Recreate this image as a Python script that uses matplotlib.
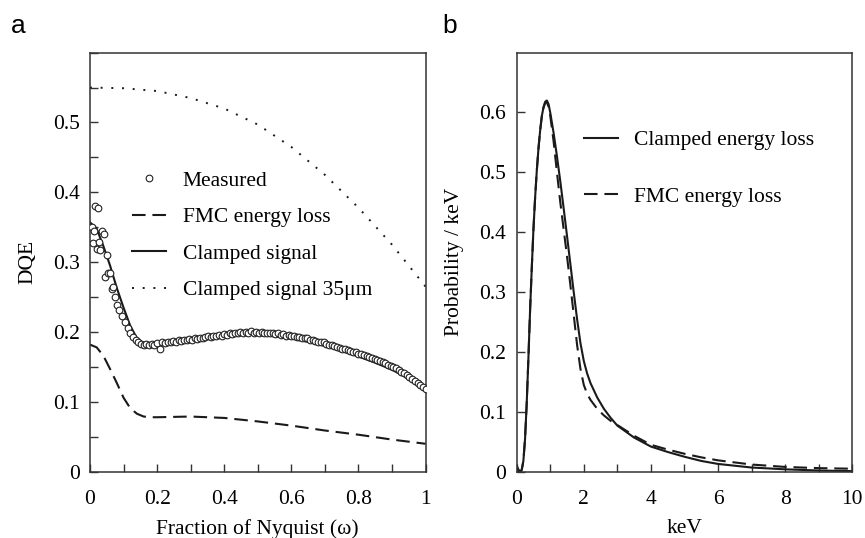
import matplotlib
matplotlib.use("Agg")
import matplotlib.pyplot as plt
import numpy as np
from matplotlib.ticker import MultipleLocator

plt.rcParams['font.family'] = ['Liberation Serif', 'DejaVu Serif']
plt.rcParams['mathtext.fontset'] = 'stix'

# ---------------- Panel a data ----------------
meas_x = [0.005, 0.008, 0.012, 0.015, 0.02, 0.023, 0.027, 0.031, 0.036, 0.041, 0.045, 0.05,
          0.055, 0.06, 0.065, 0.07, 0.075,
          0.08, 0.088, 0.096, 0.104, 0.112, 0.12, 0.128, 0.136, 0.144, 0.152, 0.16, 0.168,
          0.176, 0.184, 0.192, 0.2, 0.208, 0.216, 0.224, 0.232, 0.24, 0.248, 0.256, 0.264,
          0.272, 0.28, 0.288, 0.296, 0.304, 0.312, 0.32, 0.328, 0.336, 0.344, 0.352, 0.36,
          0.368, 0.376, 0.384, 0.392, 0.4, 0.408, 0.416, 0.424, 0.432, 0.44, 0.448, 0.456,
          0.464, 0.472, 0.48, 0.488, 0.496, 0.504, 0.512, 0.52, 0.528, 0.536, 0.544, 0.552,
          0.56, 0.568, 0.576, 0.584, 0.592, 0.6, 0.608, 0.616, 0.624, 0.632, 0.64, 0.648,
          0.656, 0.664, 0.672, 0.68, 0.688, 0.696, 0.704, 0.712, 0.72, 0.728, 0.736, 0.744,
          0.752, 0.76, 0.768, 0.776, 0.784, 0.792, 0.8, 0.808, 0.816, 0.824, 0.832, 0.84,
          0.848, 0.856, 0.864, 0.872, 0.88, 0.888, 0.896, 0.904, 0.912, 0.92, 0.928, 0.936,
          0.944, 0.952, 0.96, 0.968, 0.976, 0.984, 0.992, 1.0]
meas_y = [0.35, 0.327, 0.345, 0.38, 0.319, 0.378, 0.329, 0.318, 0.345, 0.34, 0.279, 0.31,
          0.284, 0.284, 0.262, 0.264, 0.25,
          0.238, 0.231, 0.223, 0.215, 0.206, 0.199, 0.193, 0.188, 0.185, 0.183, 0.182, 0.183,
          0.181, 0.183, 0.182, 0.184, 0.175, 0.185, 0.184, 0.186, 0.185, 0.187, 0.186, 0.188,
          0.187, 0.189, 0.188, 0.19, 0.189, 0.191, 0.19, 0.192, 0.191, 0.193, 0.194, 0.193,
          0.195, 0.194, 0.196, 0.195, 0.197, 0.196, 0.198, 0.197, 0.199, 0.198, 0.2, 0.199,
          0.2, 0.199, 0.201, 0.199, 0.2, 0.199, 0.2, 0.198, 0.199, 0.198, 0.199, 0.197,
          0.198, 0.196, 0.197, 0.195, 0.196, 0.194, 0.195, 0.193, 0.193, 0.192, 0.191, 0.191,
          0.189, 0.189, 0.187, 0.186, 0.185, 0.185, 0.183, 0.182, 0.181, 0.18, 0.178, 0.177,
          0.176, 0.175, 0.174, 0.173, 0.172, 0.171, 0.169, 0.168, 0.167, 0.166, 0.164, 0.163,
          0.162, 0.16, 0.158, 0.157, 0.155, 0.153, 0.152, 0.15, 0.148, 0.146, 0.143, 0.141,
          0.139, 0.136, 0.133, 0.13, 0.127, 0.124, 0.121, 0.118]

clamp_x = [0, 0.02, 0.04, 0.06, 0.08, 0.1, 0.12, 0.14, 0.16, 0.18, 0.2, 0.25, 0.3, 0.35,
           0.4, 0.45, 0.5, 0.55, 0.6, 0.65, 0.7, 0.75, 0.8, 0.85, 0.9, 0.95, 1.0]
clamp_y = [0.357, 0.348, 0.323, 0.295, 0.263, 0.235, 0.209, 0.191, 0.184, 0.182, 0.183,
           0.186, 0.189, 0.192, 0.194, 0.196, 0.196, 0.194, 0.191, 0.186, 0.18, 0.173,
           0.165, 0.156, 0.146, 0.133, 0.116]

fmc_x = [0, 0.02, 0.04, 0.06, 0.08, 0.1, 0.12, 0.14, 0.16, 0.18, 0.2, 0.3, 0.4, 0.5,
         0.6, 0.7, 0.8, 0.9, 1.0]
fmc_y = [0.182, 0.178, 0.166, 0.147, 0.127, 0.106, 0.091, 0.083, 0.079, 0.078, 0.078,
         0.079, 0.077, 0.072, 0.066, 0.059, 0.053, 0.046, 0.04]

c35_x = [0, 0.1, 0.2, 0.3, 0.4, 0.5, 0.6, 0.7, 0.8, 0.9, 1.0]
c35_y = [0.55, 0.549, 0.545, 0.535, 0.52, 0.497, 0.465, 0.425, 0.378, 0.325, 0.265]

# ---------------- Panel b data ----------------
kev_x = [0, 0.05, 0.1, 0.15, 0.2, 0.25, 0.3, 0.35, 0.4, 0.45, 0.5, 0.55, 0.6, 0.65, 0.7,
         0.75, 0.8, 0.85, 0.9, 0.95, 1.0, 1.1, 1.2, 1.3, 1.4, 1.5, 1.6, 1.7, 1.8, 1.9,
         2.0, 2.1, 2.2, 2.4, 2.6, 2.8, 3.0, 3.5, 4.0, 4.5, 5.0, 5.5, 6.0, 7.0, 8.0, 9.0, 10.0]
clamped_el = [0.01, 0.004, 0.0, 0.003, 0.018, 0.055, 0.115, 0.19, 0.27, 0.34, 0.405,
              0.458, 0.503, 0.54, 0.57, 0.594, 0.609, 0.618, 0.62, 0.614, 0.6, 0.566,
              0.527, 0.485, 0.44, 0.394, 0.347, 0.3, 0.255, 0.215, 0.185, 0.164, 0.148,
              0.124, 0.105, 0.09, 0.077, 0.057, 0.042, 0.033, 0.025, 0.018, 0.013, 0.007,
              0.004, 0.002, 0.001]
fmc_el = [0.0, 0.0, 0.0, 0.003, 0.018, 0.055, 0.115, 0.19, 0.27, 0.34, 0.405, 0.458,
          0.503, 0.54, 0.57, 0.594, 0.608, 0.616, 0.617, 0.61, 0.595, 0.552, 0.5, 0.45,
          0.405, 0.36, 0.312, 0.262, 0.212, 0.172, 0.145, 0.13, 0.12, 0.105, 0.094, 0.085,
          0.078, 0.06, 0.045, 0.037, 0.03, 0.024, 0.019, 0.012, 0.008, 0.006, 0.005]

fig = plt.figure(figsize=(8.65, 5.38), dpi=100)
axL = fig.add_axes([0.104, 0.1232, 0.388, 0.779])
axR = fig.add_axes([0.5973, 0.1232, 0.388, 0.779])

lw = 1.5
dash = (6.5, 3.3)
dot = (1, 4.5)
FS = 15.5

axL.plot(meas_x, meas_y, 'o', ms=4.8, mfc='white', mec='#222222', mew=0.8, label='Measured', zorder=3)
axL.plot(fmc_x, fmc_y, color='#1a1a1a', lw=lw, dashes=dash, label='FMC energy loss')
axL.plot(clamp_x, clamp_y, color='#1a1a1a', lw=lw, label='Clamped signal', zorder=2)
axL.plot(c35_x, c35_y, color='#1a1a1a', lw=1.4, dashes=dot, label=u'Clamped signal 35\u03bcm')

axL.set_xlim(0, 1)
axL.set_ylim(0, 0.6)
axL.xaxis.set_minor_locator(MultipleLocator(0.1))
axL.yaxis.set_minor_locator(MultipleLocator(0.05))
axL.set_xticks([0, 0.2, 0.4, 0.6, 0.8, 1.0])
axL.set_xticklabels(['0', '0.2', '0.4', '0.6', '0.8', '1'])
axL.set_yticks([0, 0.1, 0.2, 0.3, 0.4, 0.5])
axL.set_yticklabels(['0', '0.1', '0.2', '0.3', '0.4', '0.5'])
axL.set_xlabel(u'Fraction of Nyquist (\u03c9)', fontsize=FS, labelpad=7)
axL.set_ylabel('DQE', fontsize=FS, labelpad=11)

axR.plot(kev_x, clamped_el, color='#1a1a1a', lw=lw, label='Clamped energy loss')
axR.plot(kev_x, fmc_el, color='#1a1a1a', lw=lw, dashes=dash, label='FMC energy loss')
axR.set_xlim(0, 10)
axR.set_ylim(0, 0.7)
axR.xaxis.set_minor_locator(MultipleLocator(1))
axR.set_xticks([0, 2, 4, 6, 8, 10])
axR.set_xticklabels(['0', '2', '4', '6', '8', '10'])
axR.set_yticks([0, 0.1, 0.2, 0.3, 0.4, 0.5, 0.6])
axR.set_yticklabels(['0', '0.1', '0.2', '0.3', '0.4', '0.5', '0.6'])
axR.set_xlabel('keV', fontsize=FS, labelpad=7)
axR.set_ylabel('Probability / keV', fontsize=FS, labelpad=11)

for ax in (axL, axR):
    for s in ax.spines.values():
        s.set_color('#333333')
        s.set_linewidth(1.1)
    ax.tick_params(which='both', direction='in', color='#333333', width=1.0,
                   labelsize=FS, top=False, right=False)
    ax.tick_params(which='both', length=5.5)
    ax.tick_params(axis='x', which='major', pad=13.5)
    ax.tick_params(axis='y', which='major', pad=7.5)

legL = axL.legend(loc='upper left', bbox_to_anchor=(0.125, 0.718), frameon=False, fontsize=FS,
                  handlelength=1.6, handletextpad=0.75, labelspacing=0.76, borderpad=0,
                  borderaxespad=0)
legR = axR.legend(loc='upper left', bbox_to_anchor=(0.2, 0.815), frameon=False, fontsize=FS,
                  handlelength=1.6, handletextpad=0.75, labelspacing=1.7, borderpad=0,
                  borderaxespad=0)

fig.text(18/865, 1-33/538, 'a', fontsize=19, family='Liberation Sans', ha='center', va='baseline')
fig.text(450/865, 1-33/538, 'b', fontsize=19, family='Liberation Sans', ha='center', va='baseline')

fig.savefig('out.png', dpi=100)
